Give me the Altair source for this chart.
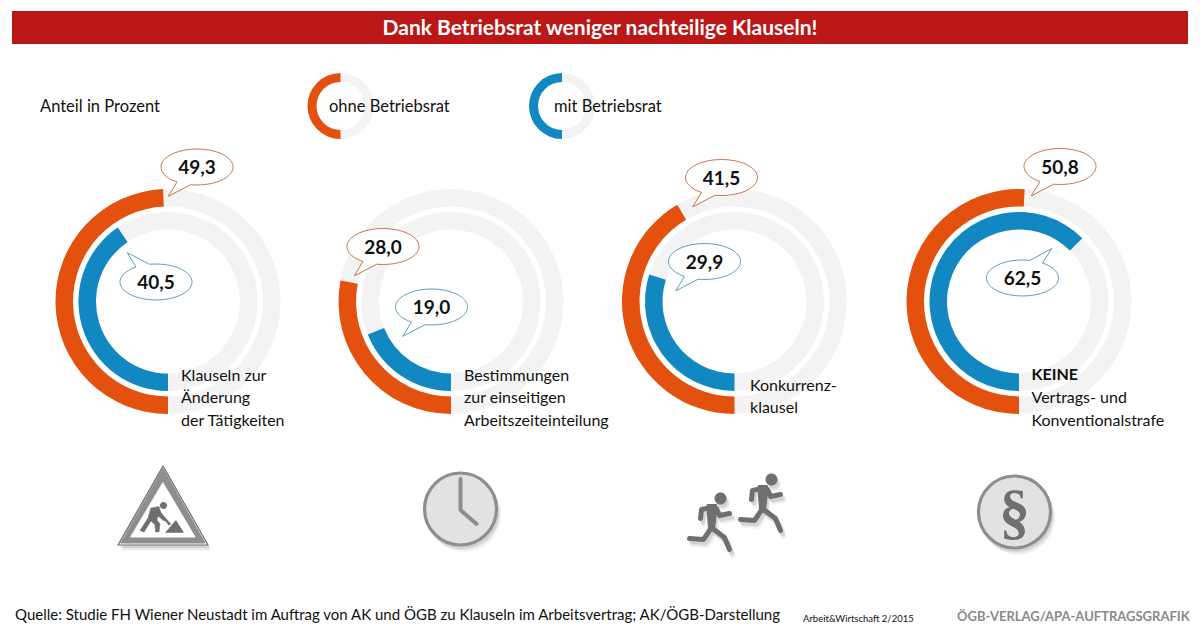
import math
import altair as alt
import pandas as pd

# ---- data ----
title_text = ["Dank Betriebsrat weniger nachteilige Klauseln!"]
center_x = [168, 451, 734.5, 1019]
center_y = [301.5, 301.5, 301.5, 301.5]
ohne_values = [49.3, 28.0, 41.5, 50.8]
mit_values = [40.5, 19.0, 29.9, 62.5]

legend_x = [340.5, 562]
legend_y = [106, 106]
legend_share = [50, 50]

ohne_bubble_x = [197, 383, 721.5, 1060]
ohne_bubble_y = [167, 246.5, 177.5, 166.5]
ohne_bubble_text = ["49,3", "28,0", "41,5", "50,8"]
mit_bubble_x = [156, 431.5, 704.5, 1022.5]
mit_bubble_y = [282, 307, 261.5, 278]
mit_bubble_text = ["40,5", "19,0", "29,9", "62,5"]
mit_bubble_tail = ["ul", "dl", "dl", "ur"]

label_text = ["Klauseln zur", "Änderung", "der Tätigkeiten",
              "Bestimmungen", "zur einseitigen", "Arbeitszeiteinteilung",
              "Konkurrenz-", "klausel",
              "Vertrags- und", "Konventionalstrafe"]
label_x = [181, 181, 181, 464, 464, 464, 750, 750, 1031.5, 1031.5]
label_y = [380.5, 403, 425.5, 381, 403, 426, 391, 413, 403, 425.5]
keine_text = ["KEINE"]
keine_x = [1031.5]
keine_y = [380]

head_text = ["Anteil in Prozent", "ohne  Betriebsrat", "mit  Betriebsrat"]
head_x = [40, 329, 554]
head_y = [112, 112, 112]

source_text = ["Quelle: Studie FH Wiener Neustadt im Auftrag von AK und ÖGB zu Klauseln im Arbeitsvertrag; AK/ÖGB-Darstellung"]
source_x, source_y = [15], [619.5]
issue_text = ["Arbeit&Wirtschaft 2/2015"]
issue_x, issue_y = [803], [622]
credit_text = ["ÖGB-VERLAG/APA-AUFTRAGSGRAFIK"]
credit_x, credit_y = [957], [621]

sign_xy = [[163], [505]]
clock_xy = [[460.5], [509]]
runner_xy = [[720.5, 771.5], [498.5, 479.5]]
para_xy = [[1014.5], [512]]
para_text = ["§"]
bar_x, bar_x2, bar_y, bar_y2 = [12], [1188], [11], [44]

# ---- styling ----
ORANGE, BLUE, RING = "#e4500e", "#1188c2", "#f3f3f3"
NARROW = "Lato"
ICON_DARK, ICON_MID, ICON_LIGHT = "#6f6f6f", "#8e8e8e", "#e2e2e2"

X = dict(field="x", type="quantitative",
         scale=alt.Scale(domain=[8, 1192], range=[0, 1184]), axis=None)
Y = dict(field="y", type="quantitative",
         scale=alt.Scale(domain=[8, 625], range=[0, 617]), axis=None)
THETA = alt.Scale(domain=[0, 100], range=[math.pi, 3 * math.pi])


def enc(chart, **kw):
    return chart.encode(x=alt.X(**X), y=alt.Y(**Y), **kw)


def frame(xs, ys, **cols):
    d = {"x": xs, "y": ys}
    d.update(cols)
    return pd.DataFrame(d)


def arcs(xs, ys, values, r_out, r_in, color):
    df = frame(xs, ys, a=[0] * len(xs), b=values)
    return enc(alt.Chart(df).mark_arc(radius=r_out, radius2=r_in, color=color, opacity=1),
               theta=alt.Theta("a:Q", scale=THETA, stack=None),
               theta2=alt.Theta2("b:Q"))


def text(xs, ys, strings, size, color="#111111", weight="normal", font=NARROW, align="left"):
    df = frame(xs, ys, t=strings)
    return enc(alt.Chart(df).mark_text(fontSize=size, font=font, fontWeight=weight, color=color,
                                       align=align, baseline="alphabetic"),
               text="t:N")


def sym(xs, ys, path, fill=None, stroke=None, sw=0, opacity=1.0, dx=0, dy=0):
    props = dict(shape=path, size=4, opacity=opacity, filled=fill is not None,
                 strokeCap="round", strokeJoin="round", strokeWidth=sw)
    if fill is not None:
        props["fill"] = fill
    if stroke is not None:
        props["stroke"] = stroke
    if dx or dy:
        props["xOffset"] = dx
        props["yOffset"] = dy
    return enc(alt.Chart(frame(xs, ys)).mark_point(**props))


def circle(r):
    return f"M{-r} 0A{r} {r} 0 1 1 {r} 0A{r} {r} 0 1 1 {-r} 0Z"


def shadowed(xs, ys, path, fill=None, stroke=None, sw=0):
    layers = []
    for off, op in ((6, 0.05), (4.5, 0.09), (3, 0.13)):
        layers.append(sym(xs, ys, path,
                          fill="#555555" if fill is not None else None,
                          stroke="#555555" if stroke is not None else None,
                          sw=sw, opacity=op, dx=off * 0.6, dy=off))
    return layers


TAILS = {
    "dl": "M-6 17.75A36 18 0 1 0 -20 14.97L-28.5 29Z",
    "ul": "M-6 -17.75A36 18 0 1 1 -20 -14.97L-28.5 -29Z",
    "ur": "M7 -17.66A36 18 0 1 0 20 -14.97L29 -29Z",
}

layers = [
    enc(alt.Chart(frame(bar_x, bar_y, x2=bar_x2, y2=bar_y2)).mark_rect(color="#bb1716"),
        x2="x2:Q", y2="y2:Q"),
    text([600], [35], title_text, 21, color="#ffffff", weight="bold", align="center"),
]

# rings
layers += [
    arcs(center_x, center_y, [100] * 4, 112.5, 95, RING),
    arcs(center_x, center_y, [100] * 4, 89.5, 72, RING),
    arcs(center_x, center_y, ohne_values, 112.5, 95, ORANGE),
    arcs(center_x, center_y, mit_values, 89.5, 72, BLUE),
    arcs(legend_x, legend_y, [100, 100], 33, 24, RING),
    arcs(legend_x[:1], legend_y[:1], legend_share[:1], 33, 24, ORANGE),
    arcs(legend_x[1:], legend_y[1:], legend_share[1:], 33, 24, BLUE),
]

# speech bubbles
layers.append(sym(ohne_bubble_x, ohne_bubble_y, TAILS["dl"], fill="#ffffff", stroke="#c9744c", sw=1))
for tail in TAILS:
    idx = [i for i, t in enumerate(mit_bubble_tail) if t == tail]
    layers.append(sym([mit_bubble_x[i] for i in idx], [mit_bubble_y[i] for i in idx],
                      TAILS[tail], fill="#ffffff", stroke="#5f9fb8", sw=1))
layers.append(text(ohne_bubble_x, [v + 7 for v in ohne_bubble_y], ohne_bubble_text, 19,
                   weight="bold", align="center"))
layers.append(text(mit_bubble_x, [v + 7 for v in mit_bubble_y], mit_bubble_text, 19,
                   weight="bold", align="center"))

# labels
layers.append(text(label_x, label_y, label_text, 16))
layers.append(text(keine_x, keine_y, keine_text, 16, weight="bold"))
layers.append(text(head_x, head_y, head_text, 16.5))
layers.append(text(source_x, source_y, source_text, 15))
layers.append(text(issue_x, issue_y, issue_text, 9.5))
layers.append(text(credit_x, credit_y, credit_text, 13, color="#8a8a8a", weight="bold"))

# warning sign
tri_out = "M0 -39L45 40L-45 40Z"
tri_band = "M0 -36.5L42 38L-42 38Z"
tri_in = "M0 -22L32 32L-32 32Z"
worker = ("M-12 3L-4 1.5L-2 8L3 14L1 16L-5 11L-6 15L-3 19L-4 27L-7.5 27L-8 20L-12 16"
          "L-19 27L-23 25.5L-15 13Z")
shovel = "M-5 8L-3 6.5L8 19L6 20.5Z"
mound = "M2 27.7L13 15L21 27.7Z"
sx, sy = sign_xy
layers += shadowed(sx, sy, tri_out, fill=True)
layers += [
    sym(sx, sy, tri_out, fill="#ffffff", stroke="#6a6a6a", sw=1.2),
    sym(sx, sy, tri_band, fill=ICON_MID, stroke=ICON_MID, sw=1),
    sym(sx, sy, tri_in, fill="#ffffff", stroke="#ffffff", sw=1),
    sym(sx, sy, worker, fill=ICON_DARK, stroke=ICON_DARK, sw=0.5),
    sym(sx, sy, shovel, fill=ICON_DARK),
    sym(sx, sy, mound, fill=ICON_DARK),
    sym([sx[0] + 0.5], [sy[0] + 0.5], circle(3.6), fill=ICON_DARK),
]

# clock
cx, cy = clock_xy
layers += shadowed(cx, cy, circle(37), fill=True)
layers += [
    sym(cx, cy, circle(36), fill=ICON_LIGHT, stroke=ICON_MID, sw=3.2),
    sym(cx, cy, "M0 -30L0 1L16 15", stroke=ICON_MID, sw=4),
]

# runners
rx, ry = runner_xy
limbs = ("M-9 9L-19 11L-20 20M-4 10L-1 17L9 15M-9 29L-17 41L-31 40M-9 29L4 39L9 51")
torso = "M-13 6L-4 6L-4 14L-6 30L-12 30L-13 16Z"
head = circle(6)
for path, kw in ((limbs, dict(stroke=True, sw=5)), (torso, dict(fill=True)), (head, dict(fill=True))):
    layers += shadowed(rx, ry, path, **kw)
layers += [
    sym(rx, ry, limbs, stroke=ICON_DARK, sw=5),
    sym(rx, ry, torso, fill=ICON_DARK, stroke=ICON_DARK, sw=1),
    sym(rx, ry, head, fill=ICON_DARK),
]

# paragraph sign
px, py = para_xy
layers += shadowed(px, py, circle(37), fill=True)
layers += [
    sym(px, py, circle(36), fill=ICON_LIGHT, stroke=ICON_MID, sw=3.2),
    text(px, [py[0] + 20], para_text, 62, color=ICON_DARK, weight="bold",
         font="Liberation Serif", align="center"),
]

chart = alt.layer(*layers).properties(
    width=1184, height=617, padding=0, background="#ffffff",
    autosize=alt.AutoSizeParams(type="none"),
).configure_view(stroke=None)

chart.save("out.html", embed_options={"renderer": "svg", "actions": False})
